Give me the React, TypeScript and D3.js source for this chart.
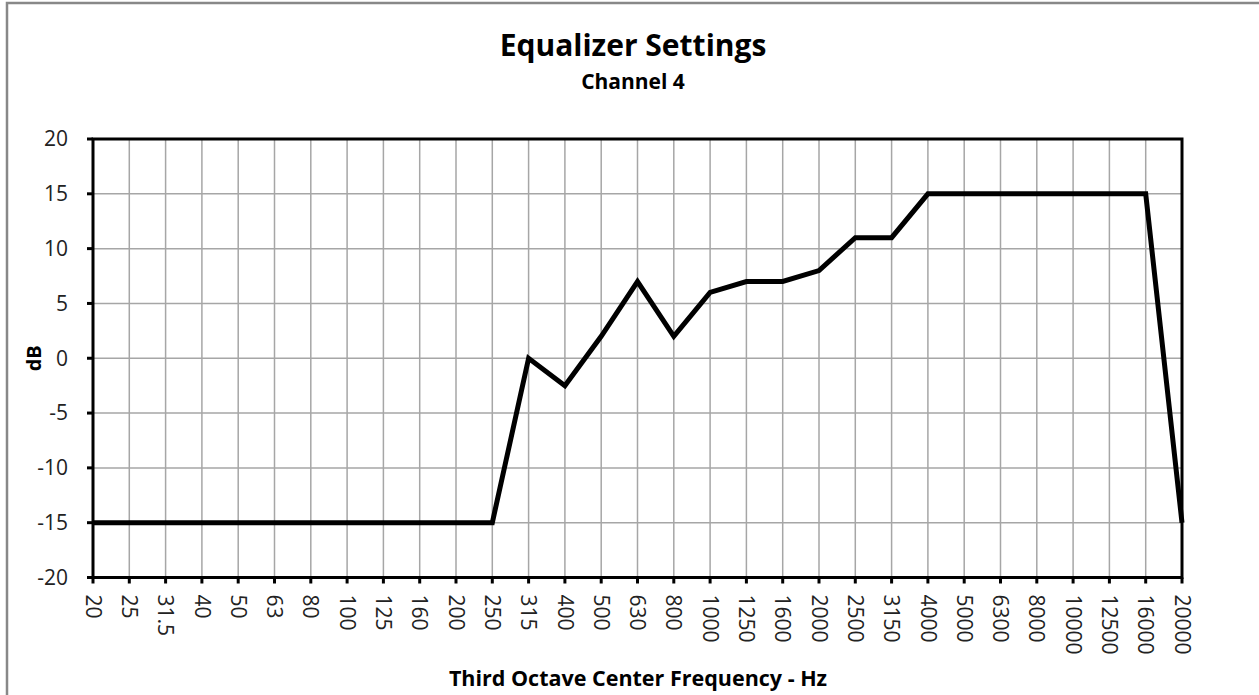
import React from "react";
import * as d3 from "d3";

// third-octave band centre frequencies (category axis)
const frequencies = [
  "20", "25", "31.5", "40", "50", "63", "80", "100", "125", "160", "200", "250",
  "315", "400", "500", "630", "800", "1000", "1250", "1600", "2000", "2500",
  "3150", "4000", "5000", "6300", "8000", "10000", "12500", "16000", "20000",
];

// gain per band, dB
const gains = [
  -15, -15, -15, -15, -15, -15, -15, -15, -15, -15, -15, -15,
  0, -2.5, 2, 7, 2, 6, 7, 7, 8, 11,
  11, 15, 15, 15, 15, 15, 15, 15, -15,
];

const yTicks = [-20, -15, -10, -5, 0, 5, 10, 15, 20];

const W = 1259;
const H = 695;
const margin = { top: 139, right: 77, bottom: 117.5, left: 93 };
const FONT = "'Open Sans', sans-serif";

export default function App() {
  const innerW = W - margin.left - margin.right;
  const innerH = H - margin.top - margin.bottom;

  const x = d3.scalePoint<string>().domain(frequencies).range([0, innerW]);
  const y = d3.scaleLinear().domain([-20, 20]).range([innerH, 0]);

  const line = d3
    .line<number>()
    .x((_, i) => x(frequencies[i]) as number)
    .y((d) => y(d));

  return (
    <div style={{ position: "absolute", left: 0, top: 0 }}>
      <svg width={W} height={H} style={{ display: "block", background: "#fff" }}>
        {/* chart border */}
        <path d={`M7,${H + 5} V3 H${W + 5}`} fill="none" stroke="#888" strokeWidth={2.5} />

        <text x={633} y={56} textAnchor="middle" fontFamily={FONT} fontWeight="bold" fontSize={30} fill="#000">
          Equalizer Settings
        </text>
        <text x={633} y={89} textAnchor="middle" fontFamily={FONT} fontWeight="bold" fontSize={21} fill="#000">
          Channel 4
        </text>

        <g transform={`translate(${margin.left},${margin.top})`}>
          {/* vertical gridlines */}
          {frequencies.map((f) => (
            <line key={"gx" + f} x1={x(f)} x2={x(f)} y1={0} y2={innerH} stroke="#a6a6a6" strokeWidth={1.5} />
          ))}
          {/* horizontal gridlines */}
          {yTicks.map((t) => (
            <line key={"gy" + t} x1={0} x2={innerW} y1={y(t)} y2={y(t)} stroke="#a6a6a6" strokeWidth={1.5} />
          ))}

          {/* plot frame */}
          <rect x={0} y={0} width={innerW} height={innerH} fill="none" stroke="#000" strokeWidth={3} />

          {/* y ticks */}
          {yTicks.map((t) => (
            <g key={"yt" + t} transform={`translate(0,${y(t)})`}>
              <line x1={-6} x2={0} stroke="#000" strokeWidth={3} />
              <text x={-25} dy="0.35em" textAnchor="end" fontFamily={FONT} fontSize={21} fill="#222">
                {t}
              </text>
            </g>
          ))}

          {/* x ticks */}
          {frequencies.map((f) => (
            <g key={"xt" + f} transform={`translate(${x(f)},${innerH})`}>
              <line y1={0} y2={6} stroke="#000" strokeWidth={3} />
              <text
                transform="translate(0,17) rotate(90)"
                dy="0.35em"
                textAnchor="start"
                fontFamily={FONT}
                fontSize={21}
                fill="#222"
              >
                {f}
              </text>
            </g>
          ))}

          {/* series */}
          <path d={line(gains) ?? ""} fill="none" stroke="#000" strokeWidth={5} strokeLinejoin="miter" />
        </g>

        <text
          transform={`translate(41,${margin.top + innerH / 2}) rotate(-90)`}
          textAnchor="middle"
          fontFamily={FONT}
          fontWeight="bold"
          fontSize={20}
          fill="#000"
        >
          dB
        </text>
        <text x={638} y={686} textAnchor="middle" fontFamily={FONT} fontWeight="bold" fontSize={21.5} fill="#000">
          Third Octave Center Frequency - Hz
        </text>
      </svg>
    </div>
  );
}
